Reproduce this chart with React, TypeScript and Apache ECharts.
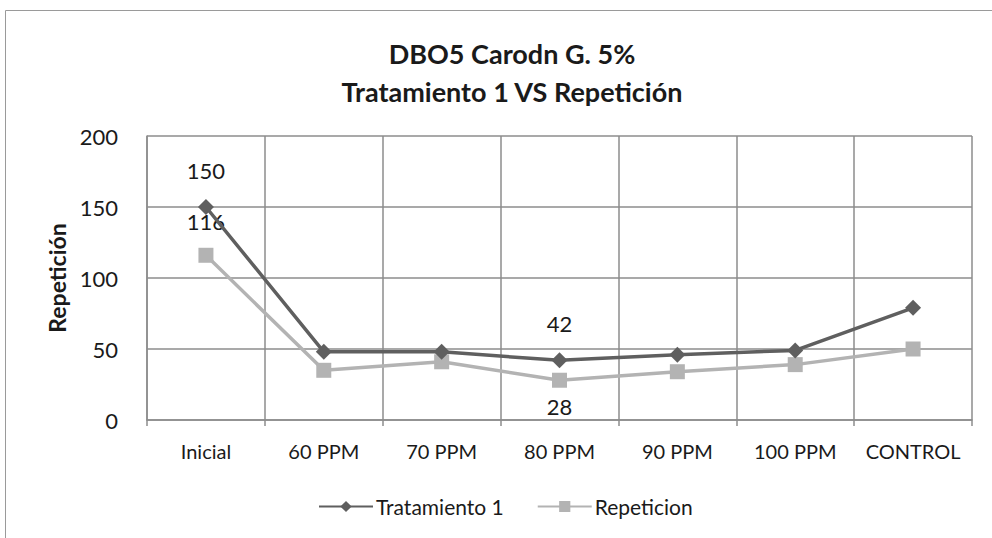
import React, { useEffect, useRef } from "react";
import * as echarts from "echarts";

const categories = ["Inicial", "60 PPM", "70 PPM", "80 PPM", "90 PPM", "100 PPM", "CONTROL"];
const tratamiento1 = [150, 48, 48, 42, 46, 49, 79];
const repeticion = [116, 35, 41, 28, 34, 39, 50];
const tratamientoLabelIdx = [0, 3];
const repeticionLabelIdx = [0, 3];
const yTicks = { min: 0, max: 200, interval: 50 };

const FONT = "Lato, 'Open Sans', sans-serif";

export default function App() {
  const ref = useRef<HTMLDivElement>(null);
  useEffect(() => {
    if (!ref.current) return;
    const chart = echarts.init(ref.current, null, { renderer: "svg" });
    const darkC = "#5f5f5f";
    const lightC = "#b3b3b3";
    const txt = "#1a1a1a";
    chart.setOption({
      animation: false,
      backgroundColor: "#ffffff",
      textStyle: { fontFamily: FONT },
      title: {
        text: "DBO5 Carodn G. 5%\nTratamiento 1 VS Repetición",
        left: 507,
        textAlign: "center",
        top: 29,
        textStyle: { fontSize: 27, fontWeight: "bold", color: txt, lineHeight: 38, fontFamily: FONT },
      },
      graphic: [
        {
          type: "rect",
          shape: { x: 5.5, y: 10.5, width: 1000, height: 600 },
          style: { fill: "none", stroke: "#9a9a9a", lineWidth: 1 },
          silent: true,
        },
      ],
      legend: {
        top: 491,
        left: 313,
        itemWidth: 54,
        itemHeight: 14,
        itemGap: 33,
        textStyle: { fontSize: 21, color: txt, fontFamily: FONT, padding: [0, 0, 0, -2] },
        data: ["Tratamiento 1", "Repeticion"],
      },
      grid: { left: 147, right: 20, top: 136, bottom: 118 },
      xAxis: {
        type: "category",
        data: categories,
        boundaryGap: true,
        axisLine: { lineStyle: { color: "#8c8c8c", width: 1.5 } },
        axisTick: { show: true, interval: 0, length: 6, lineStyle: { color: "#8c8c8c", width: 1.5 } },
        splitLine: { show: true, interval: 0, lineStyle: { color: "#8c8c8c", width: 1.5 } },
        axisLabel: { interval: 0, fontSize: 20, color: txt, margin: 21, fontFamily: FONT },
      },
      yAxis: {
        type: "value",
        min: yTicks.min,
        max: yTicks.max,
        interval: yTicks.interval,
        name: "Repetición",
        nameLocation: "middle",
        nameGap: 76,
        nameRotate: 90,
        nameTextStyle: { fontSize: 23, fontWeight: "bold", color: txt, fontFamily: FONT },
        axisLine: { show: true, lineStyle: { color: "#8c8c8c", width: 1.5 } },
        axisTick: { show: false },
        splitLine: { show: true, lineStyle: { color: "#8c8c8c", width: 1.5 } },
        axisLabel: { fontSize: 22, color: txt, margin: 29, fontFamily: FONT },
      },
      series: [
        {
          name: "Tratamiento 1",
          type: "line",
          symbol: "diamond",
          symbolSize: 16,
          color: darkC,
          lineStyle: { color: darkC, width: 3.5 },
          itemStyle: { color: darkC },
          data: tratamiento1.map((v, i) => ({
            value: v,
            label: {
              show: tratamientoLabelIdx.includes(i),
              position: "top",
              distance: 18,
              fontSize: 22,
              color: txt,
              fontFamily: FONT,
            },
          })),
          z: 3,
        },
        {
          name: "Repeticion",
          type: "line",
          symbol: "rect",
          symbolSize: 15,
          color: lightC,
          lineStyle: { color: lightC, width: 3.5 },
          itemStyle: { color: lightC },
          data: repeticion.map((v, i) => ({
            value: v,
            label: {
              show: repeticionLabelIdx.includes(i),
              position: i === 3 ? "bottom" : "top",
              distance: i === 3 ? 8 : 15,
              fontSize: 22,
              color: txt,
              fontFamily: FONT,
            },
          })),
          z: 2,
        },
      ],
    });
    return () => chart.dispose();
  }, []);
  return (
    <div
      ref={ref}
      style={{ position: "fixed", left: 0, top: 0, width: 992, height: 538, background: "#fff" }}
    />
  );
}
